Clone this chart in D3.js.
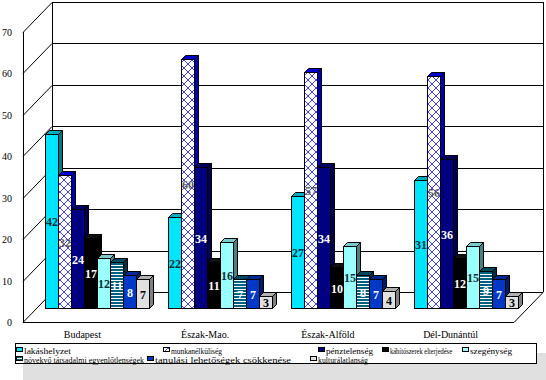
<!DOCTYPE html>
<html>
<head>
<meta charset="utf-8">
<script src="https://cdn.jsdelivr.net/npm/d3@7"></script>
<style>
  html, body { margin: 0; padding: 0; background: #fff; }
  svg { display: block; }
</style>
</head>
<body>
<svg id="chart" width="546" height="380"></svg>
<script>
// régiók
const categories = ["Budapest", "Észak-Mao.", "Észak-Alföld", "Dél-Dunántúl"];

// sorozatok (értékek régiónként)
const seriesNames = [
    "lakáshelyzet", "munkanélküliség", "pénztelenség", "kábítószerek elterjedése",
    "szegénység", "növekvő társadalmi egyenlőtlenségek", "tanulási lehetőségek csökkenése", "kulturálatlanság"
];
const lakashelyzet = [42, 22, 27, 31];
const munkanelkuliseg = [32, 60, 57, 56];
const penztelenseg = [24, 34, 34, 36];
const kabitoszerek = [17, 11, 10, 12];
const szegenyseg = [12, 16, 15, 15];
const egyenlotlenseg = [11, 7, 8, 9];
const tanulasi = [8, 7, 7, 7];
const kulturalatlansag = [7, 3, 4, 3];
const seriesValues = [lakashelyzet, munkanelkuliseg, penztelenseg, kabitoszerek,
    szegenyseg, egyenlotlenseg, tanulasi, kulturalatlansag];

const yTicks = [0, 10, 20, 30, 40, 50, 60, 70];

// színek: elő, oldal, tető, címke
const styles = [
    {front: "#00e5ff", side: "#007a86", top: "#00aebf", label: "#0b2f36"},
    {front: "url(#lattice)", side: "#0000b0", top: "#0000d0", label: "#606060"},
    {front: "#000080", side: "#00004c", top: "#000066", label: "#ffffff"},
    {front: "#000000", side: "#000000", top: "#111111", label: "#ffffff"},
    {front: "#99ffff", side: "#4c8080", top: "#7acccc", label: "#0b2f36"},
    {front: "url(#stripes)", side: "#003040", top: "#004a60", label: "#ffffff"},
    {front: "#0038c8", side: "#001c64", top: "#002a96", label: "#ffffff"},
    {front: "#e0e0e0", side: "#808080", top: "#b0b0b0", label: "#000000"}
];

const svg = d3.select("#chart");
const serif = "'Times New Roman', 'Liberation Serif', serif";

// minták
const defs = svg.append("defs");
const lat = defs.append("pattern").attr("id", "lattice")
    .attr("patternUnits", "userSpaceOnUse").attr("width", 8).attr("height", 8);
lat.append("rect").attr("width", 8).attr("height", 8).attr("fill", "#fff");
lat.append("path").attr("d", "M0,4 L4,0 L8,4 L4,8 Z")
    .attr("fill", "none").attr("stroke", "#2a2aff").attr("stroke-width", 0.9);
const str = defs.append("pattern").attr("id", "stripes")
    .attr("patternUnits", "userSpaceOnUse").attr("width", 4).attr("height", 3);
str.append("rect").attr("width", 4).attr("height", 3).attr("fill", "#00607f");
str.append("rect").attr("y", 1).attr("width", 4).attr("height", 1).attr("fill", "#fff");

// geometria
const x0 = 23, x1 = 514;
const depth = {dx: 29, dy: -30};   // fal mélysége
const barShift = {dx: 13, dy: -14}; // oszlopok a mélység felénél
const bd = 4;                       // oszlop saját mélysége

const y = d3.scaleLinear().domain([0, 70]).range([322, 32]);
const xCat = d3.scaleBand().domain(categories).range([x0, x1])
    .paddingInner(0.153).paddingOuter(0.0765);
const xSer = d3.scaleBand().domain(d3.range(seriesNames.length)).range([0, xCat.bandwidth()]);

// falak, rácsvonalak
const grid = svg.append("g").attr("stroke", "#000").attr("stroke-width", 1).attr("fill", "none");
yTicks.forEach(t => {
    const yy = Math.round(y(t)) + 0.5;
    grid.append("line").attr("x1", x0).attr("y1", yy).attr("x2", x0 + depth.dx).attr("y2", yy + depth.dy);
    grid.append("line").attr("x1", x0 + depth.dx).attr("y1", yy + depth.dy)
        .attr("x2", x1 + depth.dx).attr("y2", yy + depth.dy);
});
grid.append("line").attr("x1", x0 + depth.dx + 0.5).attr("y1", y(70) + depth.dy)
    .attr("x2", x0 + depth.dx + 0.5).attr("y2", y(0) + depth.dy);
grid.append("line").attr("x1", x1 + depth.dx + 0.5).attr("y1", y(70) + depth.dy)
    .attr("x2", x1 + depth.dx + 0.5).attr("y2", y(0) + depth.dy);
grid.append("line").attr("x1", x0 + 0.5).attr("y1", y(70)).attr("x2", x0 + 0.5).attr("y2", y(0));
// padló
grid.append("line").attr("x1", x0).attr("y1", y(0) + 0.5).attr("x2", x1).attr("y2", y(0) + 0.5);
grid.append("line").attr("x1", x1).attr("y1", y(0) + 0.5).attr("x2", x1 + depth.dx).attr("y2", y(0) + depth.dy + 0.5);

// y tengely feliratai
svg.append("g").selectAll("text").data(yTicks).enter().append("text")
    .attr("x", 12).attr("y", d => y(d) + 4)
    .attr("text-anchor", "end")
    .attr("font-family", serif).attr("font-size", 10)
    .text(d => d);

// oszlopok
const bars = svg.append("g").attr("stroke", "#000").attr("stroke-width", 1).attr("stroke-linejoin", "miter");
const labels = [];
categories.forEach((cat, ci) => {
    seriesValues.forEach((vals, si) => {
        const v = vals[ci];
        const st = styles[si];
        const bx = Math.round(xCat(cat) + xSer(si) + barShift.dx) + 0.5;
        const bw = Math.round(xSer.bandwidth());
        const yb = Math.round(y(0) + barShift.dy) + 0.5;
        const yt = Math.round(y(v) + barShift.dy) + 0.5;
        // oldal
        bars.append("polygon")
            .attr("points", [[bx + bw, yt], [bx + bw + bd, yt - bd], [bx + bw + bd, yb - bd], [bx + bw, yb]].join(" "))
            .attr("fill", st.side);
        // tető
        bars.append("polygon")
            .attr("points", [[bx, yt], [bx + bd, yt - bd], [bx + bw + bd, yt - bd], [bx + bw, yt]].join(" "))
            .attr("fill", st.top);
        // eleje
        bars.append("rect")
            .attr("x", bx).attr("y", yt).attr("width", bw).attr("height", yb - yt)
            .attr("fill", st.front);
        labels.push({x: bx + bw / 2, y: (yt + yb) / 2, v: v, color: st.label});
    });
});

svg.append("g").selectAll("text").data(labels).enter().append("text")
    .attr("x", d => d.x).attr("y", d => d.y + 4.5)
    .attr("text-anchor", "middle")
    .attr("font-family", serif).attr("font-size", 12).attr("font-weight", "bold")
    .attr("fill", d => d.color)
    .text(d => d.v);

// kategória feliratok
svg.append("g").selectAll("text").data(categories).enter().append("text")
    .attr("x", d => xCat(d) + xCat.bandwidth() / 2 - 2)
    .attr("y", 338)
    .attr("text-anchor", "middle")
    .attr("font-family", serif).attr("font-size", 10)
    .text(d => d);

// jelmagyarázat
svg.append("rect").attr("x", 23).attr("y", 353).attr("width", 523).attr("height", 27).attr("fill", "#e0e0e0");
svg.append("rect").attr("x", 15.5).attr("y", 343.5).attr("width", 521).attr("height", 20)
    .attr("fill", "#fff").attr("stroke", "#000");
// elhelyezés: x, sor, szövegszélesség
const legendPos = [[16, 0, 47], [163, 0, 51], [318, 0, 47], [382, 0, 62], [462, 0, 42],
    [16, 1, 120], [147, 1, 136], [310, 1, 50]];
const leg = svg.append("g");
seriesNames.forEach((name, i) => {
    const [lx, row, tw] = legendPos[i];
    const ly = 347 + row * 9;
    leg.append("rect").attr("x", lx + 0.5).attr("y", ly + 0.5).attr("width", 6).attr("height", 4)
        .attr("fill", styles[i].front).attr("stroke", "#000");
    leg.append("text").attr("x", lx + 8).attr("y", ly + 7)
        .attr("font-family", serif).attr("font-size", 8)
        .attr("textLength", tw).attr("lengthAdjust", "spacingAndGlyphs")
        .text(name);
});
</script>
</body>
</html>
